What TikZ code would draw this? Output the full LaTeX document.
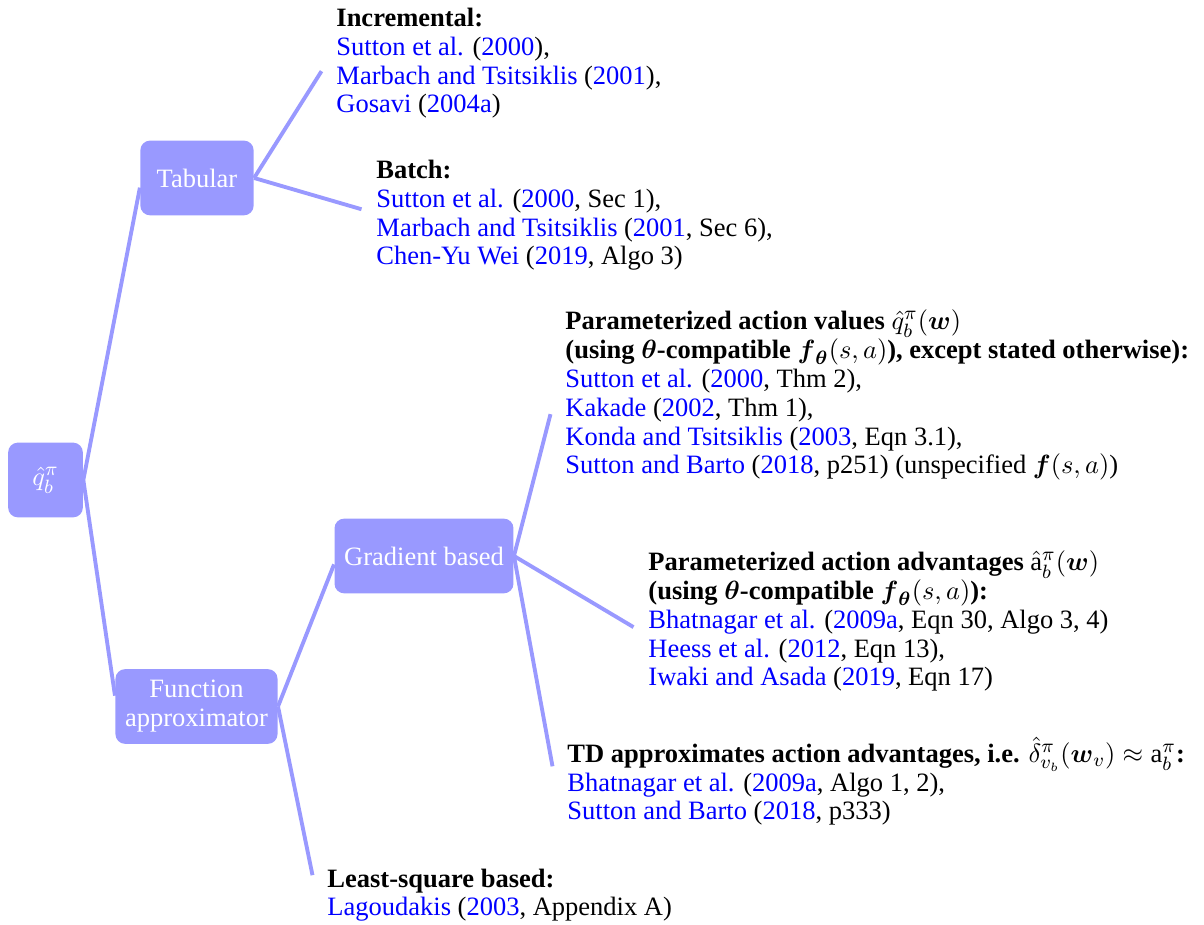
\documentclass[tikz,border=0pt,11pt]{standalone}
\usepackage{amsmath}
\usepackage{amssymb}
\usepackage{fontspec}
\setmainfont{Liberation Serif}
\definecolor{citeblue}{RGB}{0,0,255}
\newcommand{\cit}[1]{\textcolor{citeblue}{#1}}

\begin{document}
\begin{tikzpicture}[x=0.415pt,y=-0.415pt,
  every node/.style={font=\fontsize{11}{12}\selectfont},
  box/.style={fill=blue!40, text=white, rounded corners=4pt, align=center,
    minimum height=31pt, minimum width=31pt, inner xsep=4pt},
  leaf/.style={anchor=base west, align=left, inner xsep=6pt, inner ysep=0pt},
  branch/.style={draw=blue!40, line width=1.6pt}]
\useasboundingbox (0,0) rectangle (1204,925);
% inner nodes
\node[box] (q) at (45.5,480) {$\hat{q}_b^\pi$};
\node[box, minimum width=47pt] (tab) at (197,178) {Tabular};
\node[box] (fa) at (196.5,706.5) {Function\\approximator};
\node[box] (grad) at (424,556) {Gradient based};
% leaves (placed at the baseline of their last line)
\node[leaf] (inc) at (321.5,113) {\textbf{Incremental:}\\
  \cit{Sutton et al.} (\cit{2000}),\\
  \cit{Marbach and Tsitsiklis} (\cit{2001}),\\
  \cit{Gosavi} (\cit{2004a})};
\node[leaf] (batch) at (361.5,265) {\textbf{Batch:}\\
  \cit{Sutton et al.} (\cit{2000}, Sec 1),\\
  \cit{Marbach and Tsitsiklis} (\cit{2001}, Sec 6),\\
  \cit{Chen-Yu Wei} (\cit{2019}, Algo 3)};
\node[leaf] (vals) at (550.5,474) {\textbf{Parameterized action values} $\hat{q}_b^\pi(\boldsymbol{w})$\\
  \textbf{(using $\boldsymbol{\theta}$-compatible $\boldsymbol{f}_{\boldsymbol{\theta}}(s,a)$), except stated otherwise):}\\
  \cit{Sutton et al.} (\cit{2000}, Thm 2),\\
  \cit{Kakade} (\cit{2002}, Thm 1),\\
  \cit{Konda and Tsitsiklis} (\cit{2003}, Eqn 3.1),\\
  \cit{Sutton and Barto} (\cit{2018}, p251) (unspecified $\boldsymbol{f}(s,a)$)};
\node[leaf] (adv) at (633.5,686) {\textbf{Parameterized action advantages} $\hat{\mathrm{a}}_b^\pi(\boldsymbol{w})$\\
  \textbf{(using $\boldsymbol{\theta}$-compatible $\boldsymbol{f}_{\boldsymbol{\theta}}(s,a)$):}\\
  \cit{Bhatnagar et al.} (\cit{2009a}, Eqn 30, Algo 3, 4)\\
  \cit{Heess et al.} (\cit{2012}, Eqn 13),\\
  \cit{Iwaki and Asada} (\cit{2019}, Eqn 17)};
\node[leaf] (td) at (552.5,820) {\textbf{TD approximates action advantages, i.e.} $\hat{\delta}_{v_b}^\pi(\boldsymbol{w}_v) \approx \mathrm{a}_b^\pi$\textbf{:}\\
  \cit{Bhatnagar et al.} (\cit{2009a}, Algo 1, 2),\\
  \cit{Sutton and Barto} (\cit{2018}, p333)};
\node[leaf] (lsq) at (312.5,916) {\textbf{Least-square based:}\\
  \cit{Lagoudakis} (\cit{2003}, Appendix A)};
% branches
\draw[branch] (q.east) -- ([yshift=-4pt]tab.west);
\draw[branch] (q.east) -- ([yshift=4.5pt]fa.west);
\draw[branch] (tab.east) -- ([yshift=-3.3pt]inc.west);
\draw[branch] (tab.east) -- ([yshift=2.5pt]batch.west);
\draw[branch] (fa.east) -- ([yshift=-3.5pt]grad.west);
\draw[branch] (fa.east) -- ([yshift=8.3pt]lsq.west);
\draw[branch] (grad.east) -- ([yshift=-7.9pt]vals.west);
\draw[branch] (grad.east) -- ([yshift=-2.5pt]adv.west);
\draw[branch] (grad.east) -- ([yshift=6.2pt]td.west);
\end{tikzpicture}
\end{document}
